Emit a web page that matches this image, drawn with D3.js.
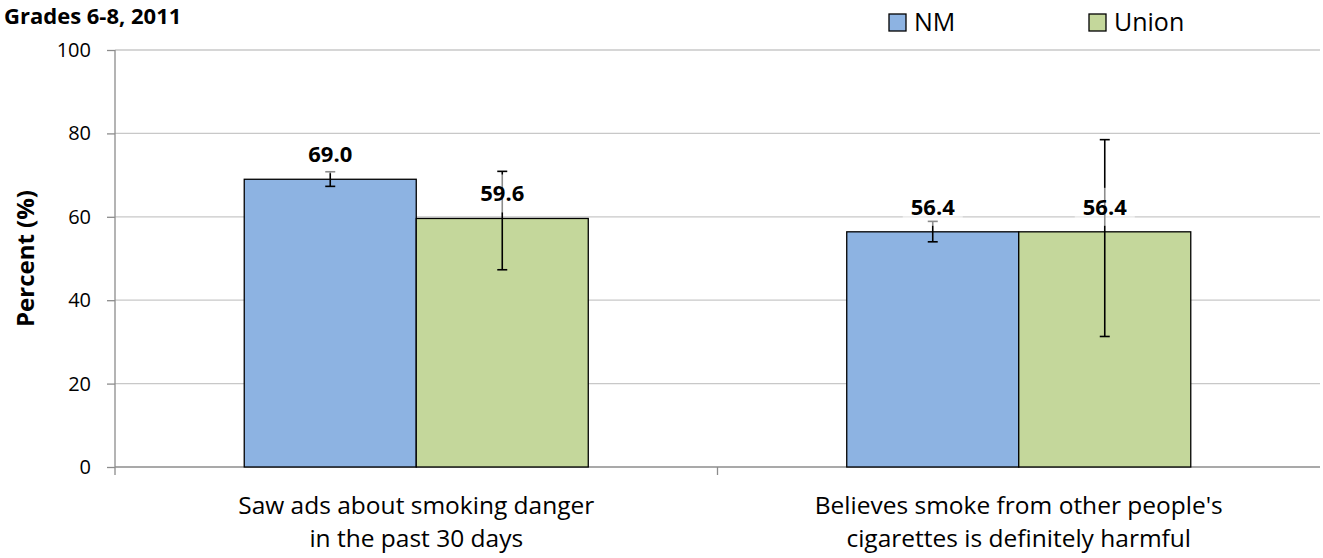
<!DOCTYPE html>
<html>
<head>
<meta charset="utf-8">
<script src="https://cdn.jsdelivr.net/npm/d3@7"></script>
<style>
  body { margin: 0; background: #fff; }
  svg { font-family: "Open Sans", sans-serif; }
</style>
</head>
<body>
<div id="chart"></div>
<script>
// chart data
var categories = [
    ["Saw ads about smoking danger", "in the past 30 days"],
    ["Believes smoke from other people's", "cigarettes is definitely harmful"]
];
var seriesNames = ["NM", "Union"];
var nmValues = [69.0, 56.4];
var unionValues = [59.6, 56.4];
var nmLow = [67.3, 54.0];
var nmHigh = [70.8, 58.9];
var unionLow = [47.3, 31.3];
var unionHigh = [70.9, 78.5];
var yTicks = [0, 20, 40, 60, 80, 100];
var colors = ["#8db3e2", "#c4d79b"];

var svg = d3.select("#chart").append("svg")
    .attr("width", 1323)
    .attr("height", 558);

var margin = {top: 50, right: 3, bottom: 91, left: 115};
var width = 1323 - margin.left - margin.right;
var height = 558 - margin.top - margin.bottom;

var g = svg.append("g")
    .attr("transform", "translate(" + margin.left + "," + margin.top + ")");

var x0 = d3.scaleBand()
    .domain(d3.range(categories.length))
    .range([0, width]);

var x1 = d3.scaleBand()
    .domain(seriesNames)
    .range([x0.bandwidth() * 0.2145, x0.bandwidth() * 0.7855]);

var y = d3.scaleLinear()
    .domain([0, 100])
    .range([height, 0]);

// gridlines
g.append("g")
    .selectAll("line")
    .data(yTicks.slice(1))
    .enter().append("line")
    .attr("x1", 0)
    .attr("x2", width)
    .attr("y1", function(d) { return y(d); })
    .attr("y2", function(d) { return y(d); })
    .attr("stroke", "#c8c8c8")
    .attr("stroke-width", 1.3);

// y axis
var yAxis = g.append("g")
    .call(d3.axisLeft(y).tickValues(yTicks).tickSize(8).tickPadding(16));
yAxis.select(".domain").attr("stroke", "#8c8c8c").attr("stroke-width", 1.3)
    .attr("d", "M0," + (height + 8) + "V0");
yAxis.selectAll(".tick line").attr("stroke", "#8c8c8c").attr("stroke-width", 1.3);
yAxis.selectAll(".tick text").attr("font-size", 20).attr("fill", "#000")
    .attr("font-family", "'Open Sans', sans-serif");

// x axis
var xAxis = g.append("g")
    .attr("transform", "translate(0," + height + ")");
xAxis.append("line")
    .attr("x1", 0).attr("x2", width)
    .attr("stroke", "#8c8c8c").attr("stroke-width", 1.3);
xAxis.selectAll(".sep")
    .data(d3.range(1, categories.length))
    .enter().append("line")
    .attr("class", "sep")
    .attr("x1", function(d) { return x0(d); })
    .attr("x2", function(d) { return x0(d); })
    .attr("y1", 0).attr("y2", 8)
    .attr("stroke", "#8c8c8c").attr("stroke-width", 1.3);

var xLabels = xAxis.selectAll(".xlabel")
    .data(categories)
    .enter().append("text")
    .attr("class", "xlabel")
    .attr("text-anchor", "middle")
    .attr("font-size", 24.5)
    .attr("transform", function(d, i) { return "translate(" + (x0(i) + x0.bandwidth() / 2) + ",0)"; });
xLabels.selectAll("tspan")
    .data(function(d) { return d; })
    .enter().append("tspan")
    .attr("x", 0)
    .attr("y", function(d, i) { return 47 + i * 33; })
    .text(function(d) { return d; });

// bars
var rows = categories.map(function(c, i) {
    return [
        {key: "NM", value: nmValues[i], lo: nmLow[i], hi: nmHigh[i], color: colors[0]},
        {key: "Union", value: unionValues[i], lo: unionLow[i], hi: unionHigh[i], color: colors[1]}
    ];
});

var groups = g.append("g")
    .selectAll("g")
    .data(rows)
    .enter().append("g")
    .attr("transform", function(d, i) { return "translate(" + x0(i) + ",0)"; });

groups.selectAll("rect")
    .data(function(d) { return d; })
    .enter().append("rect")
    .attr("x", function(d) { return x1(d.key); })
    .attr("y", function(d) { return y(d.value); })
    .attr("width", x1.bandwidth())
    .attr("height", function(d) { return height - y(d.value); })
    .attr("fill", function(d) { return d.color; })
    .attr("stroke", "#000")
    .attr("stroke-width", 1.3);

// error bars
var err = groups.selectAll(".err")
    .data(function(d) { return d; })
    .enter().append("g")
    .attr("class", "err")
    .attr("stroke", "#000")
    .attr("stroke-width", 1.6);
err.append("line")
    .attr("x1", function(d) { return x1(d.key) + x1.bandwidth() / 2; })
    .attr("x2", function(d) { return x1(d.key) + x1.bandwidth() / 2; })
    .attr("y1", function(d) { return y(d.lo); })
    .attr("y2", function(d) { return y(d.hi); });
err.selectAll(".cap")
    .data(function(d) { return [d.lo, d.hi].map(function(v) { return {key: d.key, v: v}; }); })
    .enter().append("line")
    .attr("class", "cap")
    .attr("x1", function(d) { return x1(d.key) + x1.bandwidth() / 2 - 5; })
    .attr("x2", function(d) { return x1(d.key) + x1.bandwidth() / 2 + 5; })
    .attr("y1", function(d) { return y(d.v); })
    .attr("y2", function(d) { return y(d.v); });

// value labels
var labels = groups.selectAll(".lbl")
    .data(function(d) { return d; })
    .enter().append("g")
    .attr("class", "lbl")
    .attr("transform", function(d) {
        return "translate(" + (x1(d.key) + x1.bandwidth() / 2) + "," + (y(d.value) - 25) + ")";
    });
labels.append("rect")
    .attr("x", -30).attr("y", -19)
    .attr("width", 60).attr("height", 38)
    .attr("fill", "#fff")
    .attr("fill-opacity", 0.55);
labels.append("text")
    .attr("text-anchor", "middle")
    .attr("dy", "0.36em")
    .attr("font-size", 22)
    .attr("font-weight", "bold")
    .text(function(d) { return d.value.toFixed(1); });

// y axis title
svg.append("text")
    .attr("transform", "translate(34," + (margin.top + height / 2) + ") rotate(-90)")
    .attr("text-anchor", "middle")
    .attr("font-size", 24)
    .attr("font-weight", "bold")
    .text("Percent (%)");

// chart title
svg.append("text")
    .attr("x", 4)
    .attr("y", 24)
    .attr("font-size", 22)
    .attr("font-weight", "bold")
    .text("Grades 6-8, 2011");

// legend
var legendX = [889, 1089];
var legend = svg.append("g")
    .selectAll("g")
    .data(seriesNames)
    .enter().append("g")
    .attr("transform", function(d, i) { return "translate(" + legendX[i] + ",14)"; });
legend.append("rect")
    .attr("width", 17)
    .attr("height", 17)
    .attr("fill", function(d, i) { return colors[i]; })
    .attr("stroke", "#000")
    .attr("stroke-width", 1.3);
legend.append("text")
    .attr("x", 25)
    .attr("y", 17)
    .attr("font-size", 25)
    .text(function(d) { return d; });
</script>
</body>
</html>
